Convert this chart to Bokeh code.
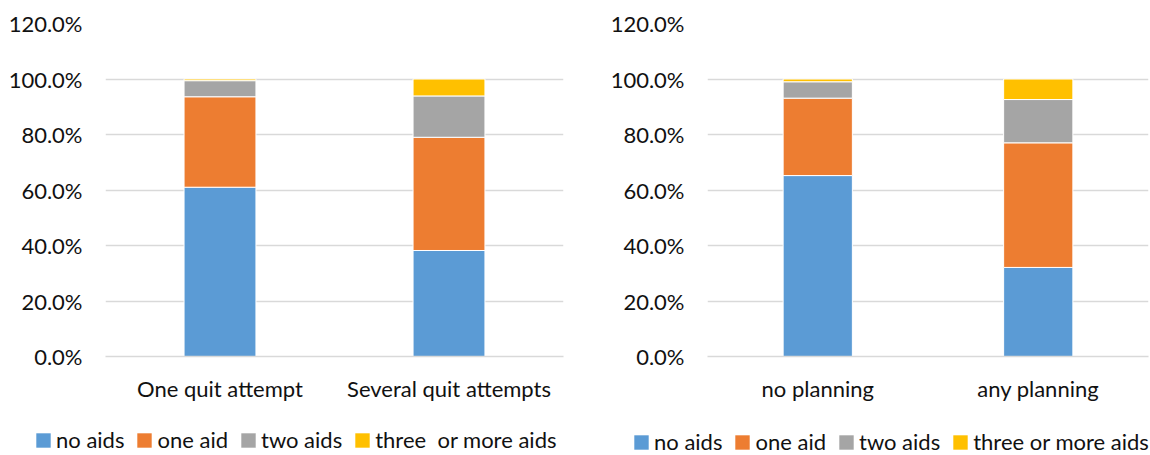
from bokeh.plotting import figure
from bokeh.models import (Range1d, FactorRange, FixedTicker, NumeralTickFormatter,
                          Legend, LegendItem, ColumnDataSource)
from bokeh.layouts import row, column
from bokeh.embed import file_html
from bokeh.resources import INLINE

# ---- data ----
y_ticks = [0.0, 0.2, 0.4, 0.6, 0.8, 1.0, 1.2]
colors = ["#5B9BD5", "#ED7D31", "#A5A5A5", "#FFC000"]

left_categories = ["One quit attempt", "Several quit attempts"]
left_series = ["no aids", "one aid", "two aids", "three  or more aids"]
left_no_aids = [0.610, 0.382]
left_one_aid = [0.326, 0.408]
left_two_aids = [0.058, 0.149]
left_three_plus = [0.006, 0.061]

right_categories = ["no planning", "any planning"]
right_series = ["no aids", "one aid", "two aids", "three or more aids"]
right_no_aids = [0.652, 0.321]
right_one_aid = [0.279, 0.449]
right_two_aids = [0.059, 0.156]
right_three_plus = [0.010, 0.074]

FONT = "Lato"
TXT = "#111111"
GRID = "#D9D9D9"


def make_chart(cats, values, width, height, bl, br, bt, bb, standoff):
    p = figure(x_range=FactorRange(*cats, range_padding=0), y_range=Range1d(0, 1.2),
               width=width, height=height, output_backend="svg", toolbar_location=None,
               min_border_left=bl, min_border_right=br, min_border_top=bt,
               min_border_bottom=bb)
    keys = ["s0", "s1", "s2", "s3"]
    data = {"cat": cats}
    for k, v in zip(keys, values):
        data[k] = v
    src = ColumnDataSource(data)
    p.vbar_stack(keys, x="cat", width=0.314, source=src,
                 fill_color=colors, line_color="white", line_width=1)
    p.outline_line_color = None
    p.xgrid.visible = False
    p.ygrid.grid_line_color = GRID
    p.ygrid.grid_line_width = 1.3
    p.yaxis.ticker = FixedTicker(ticks=y_ticks)
    p.yaxis.formatter = NumeralTickFormatter(format="0.0%")
    p.yaxis.axis_line_color = None
    p.yaxis.major_tick_line_color = None
    p.yaxis.minor_tick_line_color = None
    p.yaxis.major_label_standoff = standoff
    p.xaxis.axis_line_color = GRID
    p.xaxis.axis_line_width = 1.3
    p.xaxis.major_tick_line_color = None
    p.xaxis.major_label_standoff = 12
    for ax in (p.xaxis[0], p.yaxis[0]):
        ax.major_label_text_font = FONT
        ax.major_label_text_font_size = "22px"
        ax.major_label_text_color = TXT
    return p


def make_legend(series, width, height, loc):
    q = figure(width=width, height=height, x_range=Range1d(0, 1), y_range=Range1d(0, 1),
               output_backend="svg", toolbar_location=None,
               x_axis_location=None, y_axis_location=None, min_border=0)
    q.outline_line_color = None
    q.grid.visible = False
    items = []
    for s, c in zip(series, colors):
        # zero-size placeholder glyph: only its legend swatch is shown
        r = q.vbar(x=[0], top=[0], bottom=[0], width=0, fill_color=c, line_color=None)
        items.append(LegendItem(label=s, renderers=[r]))
    legend = Legend(items=items, location=loc, orientation="horizontal")
    legend.border_line_color = None
    legend.background_fill_alpha = 0
    legend.padding = 0
    legend.margin = 0
    legend.spacing = 11
    legend.label_standoff = 4
    legend.glyph_width = 18
    legend.glyph_height = 18
    legend.label_text_font = FONT
    legend.label_text_font_size = "22px"
    legend.label_text_color = TXT
    q.add_layout(legend)
    return q


p1 = make_chart(left_categories,
                [left_no_aids, left_one_aid, left_two_aids, left_three_plus],
                578, 415, 105, 15, 23, 59, 17)
p2 = make_chart(right_categories,
                [right_no_aids, right_one_aid, right_two_aids, right_three_plus],
                572, 415, 129, 2, 23, 57, 17)
l1 = make_legend(left_series, 578, 40, (34, 2))
l2 = make_legend(right_series, 572, 40, (54, 0))

layout = column(row(p1, p2), row(l1, l2))
open("out.html", "w").write(file_html(layout, INLINE))
